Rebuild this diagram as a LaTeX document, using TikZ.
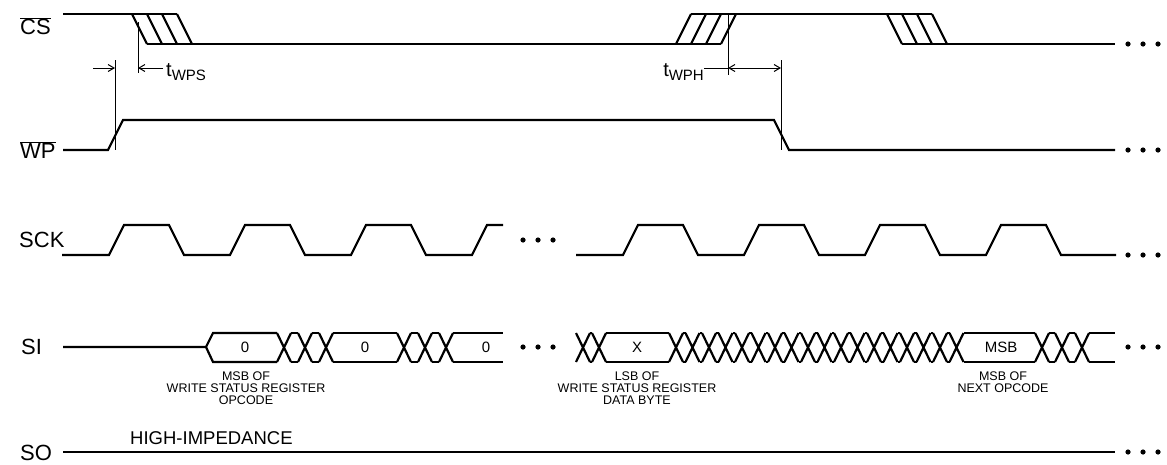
\documentclass[tikz,border=0pt]{standalone}
\usepackage{fontspec}
\setmainfont{Liberation Sans}
\usetikzlibrary{arrows.meta}

\tikzset{
  sig/.style={line width=2.2pt},
  dim/.style={line width=1pt},
  tip/.style={line width=1pt, -{Straight Barb[length=6pt,width=7pt]}},
  siglabel/.style={anchor=west, inner sep=0pt, font=\fontsize{22}{22}\selectfont},
  timelabel/.style={inner sep=0pt, font=\fontsize{20}{20}\selectfont},
  bitlabel/.style={inner sep=0pt, font=\fontsize{15}{15}\selectfont},
  note/.style={inner sep=0pt, align=center, font=\fontsize{12.5}{12}\selectfont}
}

\newcommand{\crossings}[3]
{
  \foreach \k in {1,...,#2}
    \draw[sig] ({#1+#3*(\k-1)},333) -- ++(14,29) ({#1+#3*(\k-1)},362) -- ++(14,-29);
  \ifnum#2>1
    \foreach \k in {2,...,#2}
      \draw[sig] ({#1+#3*(\k-2)+14},333) -- ({#1+#3*(\k-1)},333)
                 ({#1+#3*(\k-2)+14},362) -- ({#1+#3*(\k-1)},362);
  \fi
}
\newcommand{\busbox}[2]
{
  \draw[sig] (#1,333) -- (#2,333) (#1,362) -- (#2,362);
}
\newcommand{\moredots}[2]
{
  \foreach \k in {0,1,2}
    \fill (#1+15*\k,#2) circle (2.6);
}
\newcommand{\sub}[1]{\raisebox{-0.4ex}{\fontsize{15}{15}\selectfont #1}}

\begin{document}
\begin{tikzpicture}[x=1pt,y=-1pt]
  \useasboundingbox (0,0) rectangle (1167,464);

  \node[siglabel] (cs)  at (20,26)  {$\overline{\hbox{CS}}$};
  \node[siglabel] (wp)  at (20,150) {$\overline{\hbox{WP}}$};
  \node[siglabel] (sck) at (19,240) {SCK};
  \node[siglabel] (si)  at (21,347) {SI};
  \node[siglabel] (so)  at (20,453) {SO};

  % CS
  \draw[sig] (63,14) -- (177,14);
  \draw[sig] (147,44) -- (721,44);
  \draw[sig] (691,14) -- (932,14);
  \draw[sig] (902,44) -- (1115,44);
  \foreach \k in {0,...,3}
  {
    \draw[sig] (132+15*\k,14) -- ++(15,30);
    \draw[sig] (676+15*\k,44) -- ++(15,-30);
    \draw[sig] (887+15*\k,14) -- ++(15,30);
  }
  \moredots{1128}{44}

  % WP
  \draw[sig] (63,150) -- (108,150) -- (123,120) -- (774,120) -- (789,150) -- (1115,150);
  \moredots{1128}{150}

  % timing marks
  \coordinate (wpsl) at (115,68);
  \coordinate (wpsr) at (138,68);
  \coordinate (wphl) at (728,68);
  \coordinate (wphr) at (781,68);
  \draw[dim] (115,60) -- (115,150);
  \draw[dim] (138,22) -- (138,73);
  \draw[tip] (93,68) -- (wpsl);
  \draw[tip] (163,68) -- (wpsr);
  \node[timelabel, anchor=west] (twps) at (166,72) {t\sub{WPS}};
  \draw[dim] (728,14) -- (728,75);
  \draw[dim] (781,60) -- (781,150);
  \node[timelabel, anchor=east] (twph) at (704,72) {t\sub{WPH}};
  \draw[dim] (twph.east |- wphl) -- (wphl);
  \draw[dim, {Straight Barb[length=6pt,width=7pt]}-{Straight Barb[length=6pt,width=7pt]}] (wphl) -- (wphr);

  % SCK
  \draw[sig] (62,255) \foreach \k in {0,1,2} { -- (109+121*\k,255) -- ++(15,-30) -- ++(45,0) -- ++(15,30) }
    -- (472,255) -- (487,225) -- (503,225);
  \moredots{523}{240}
  \draw[sig] (576,255) \foreach \k in {0,...,3} { -- (623+121*\k,255) -- ++(15,-30) -- ++(45,0) -- ++(15,30) }
    -- (1116,255);
  \moredots{1128}{255}

  % SI
  \draw[sig] (63,347) -- (206,347) -- (213,333) -- (277,333);
  \draw[sig] (206,347) -- (213,362) -- (277,362);
  \crossings{277}{3}{21}
  \busbox{333}{397}
  \crossings{397}{3}{21}
  \busbox{453}{503}
  \moredots{523}{347}
  \crossings{576}{2}{16}
  \busbox{606}{669}
  \crossings{669}{18}{16.5}
  \busbox{963.5}{1035}
  \crossings{1035}{3}{20}
  \busbox{1089}{1115}
  \moredots{1128}{347}

  \node[bitlabel] (b1) at (245,347) {0};
  \node[bitlabel] (b2) at (365,347) {0};
  \node[bitlabel] (b3) at (486,347) {0};
  \node[bitlabel] (lsb) at (637,347) {X};
  \node[bitlabel] (msb) at (1001,347) {MSB};

  \node[note] (opnote)   at (246,388) {MSB OF\\WRITE STATUS REGISTER\\OPCODE};
  \node[note] (datanote) at (637,388) {LSB OF\\WRITE STATUS REGISTER\\DATA BYTE};
  \node[note] (nextnote) at (1003,382) {MSB OF\\NEXT OPCODE};

  % SO
  \draw[sig] (63,452) -- (1115,452);
  \moredots{1128}{452}
  \node[siglabel, font=\fontsize{18.5}{18.5}\selectfont] (hiz) at (130,438) {HIGH-IMPEDANCE};
\end{tikzpicture}
\end{document}
